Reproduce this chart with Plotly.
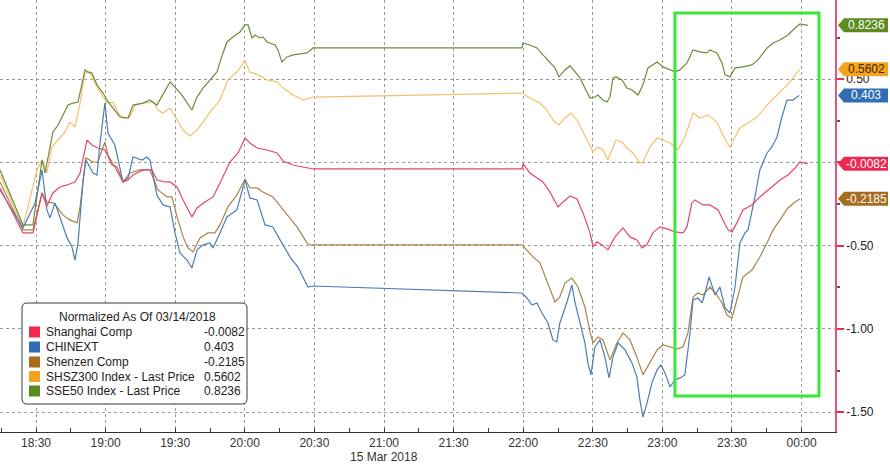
import plotly.graph_objects as go
from datetime import datetime, timedelta

# ---------------- data (time = minutes after 18:00 on 15 Mar 2018) ----------------
series_names = ["Shanghai Comp", "CHINEXT", "Shenzen Comp",
                "SHSZ300 Index - Last Price", "SSE50 Index - Last Price"]
last_values = [-0.0082, 0.403, -0.2185, 0.5602, 0.8236]
last_labels = ["-0.0082", "0.403", "-0.2185", "0.5602", "0.8236"]
legend_title = "Normalized As Of 03/14/2018"
date_label = "15 Mar 2018"

t_shanghai = [14.5,24.4,28.7,32.6,34.7,37.3,40.3,43.4,46.8,49.0,52.0,54.1,56.7,59.7,62.8,64.9,67.5,69.7,71.8,76.1,80.0,82.1,85.6,87.8,90.8,93.4,97.2,99.4,102.8,106.3,109.3,113.6,117.1,120.1,122.2,125.3,129.6,133.9,136.5,140.8,145.1,149.4,239.5,239.9,242.9,245.9,248.5,251.5,255.0,257.2,260.2,263.2,265.8,268.8,270.1,271.8,274.0,276.5,279.6,283.0,286.0,289.0,291.2,293.3,295.9,298.9,302.0,305.4,308.9,310.6,312.7,314.0,317.5,320.5,324.0,326.1,328.3,330.0,332.1,334.7,338.6,342.0,346.4,350.7,354.1,357.2,359.3,362.7]
v_shanghai = [-0.153,-0.423,-0.423,-0.183,-0.261,-0.183,-0.147,-0.135,-0.117,-0.063,0.135,0.105,0.087,0.075,-0.015,-0.027,-0.117,-0.105,-0.075,-0.045,-0.045,-0.105,-0.117,-0.117,-0.147,-0.225,-0.327,-0.273,-0.237,-0.207,-0.123,0.003,0.057,0.147,0.117,0.087,0.075,0.057,0.009,-0.015,-0.027,-0.039,-0.039,-0.009,-0.063,-0.093,-0.117,-0.177,-0.267,-0.237,-0.201,-0.219,-0.303,-0.423,-0.507,-0.477,-0.495,-0.525,-0.447,-0.393,-0.447,-0.465,-0.513,-0.495,-0.423,-0.387,-0.399,-0.417,-0.423,-0.387,-0.243,-0.225,-0.255,-0.255,-0.285,-0.345,-0.405,-0.417,-0.363,-0.285,-0.255,-0.207,-0.153,-0.105,-0.075,-0.033,0.003,-0.0082]

t_chinext = [14.5,24.4,29.6,32.6,34.7,36.0,38.2,40.3,43.4,45.5,46.8,48.1,50.3,51.5,54.6,56.3,57.6,59.7,61.0,64.0,67.5,69.7,71.8,75.7,77.8,79.1,82.1,84.7,87.8,89.9,92.1,95.1,97.2,99.4,102.0,105.0,106.3,109.3,112.3,116.6,120.1,122.2,125.3,128.7,132.1,135.2,139.5,142.9,147.2,149.4,239.5,241.6,243.8,245.9,248.1,250.7,252.8,254.5,255.8,258.9,261.0,262.3,264.5,266.6,267.9,269.2,270.9,273.1,275.2,277.0,278.7,280.9,283.9,286.9,289.0,290.3,291.6,293.4,295.5,297.7,299.4,301.1,303.3,305.4,307.6,309.7,311.9,313.2,315.3,317.1,318.4,320.1,322.7,324.8,327.0,329.1,331.3,333.4,335.6,336.9,339.9,342.0,345.1,347.2,349.4,351.5,353.7,356.3,358.9]
v_chinext = [-0.165,-0.393,-0.243,-0.045,-0.285,-0.333,-0.243,-0.327,-0.453,-0.507,-0.586,-0.483,-0.105,0.015,-0.063,-0.075,0.117,0.357,0.177,0.105,-0.117,-0.093,0.033,0.015,0.033,0.015,-0.195,-0.255,-0.267,-0.423,-0.544,-0.586,-0.634,-0.525,-0.495,-0.483,-0.513,-0.423,-0.327,-0.285,-0.105,-0.213,-0.225,-0.375,-0.387,-0.465,-0.568,-0.628,-0.748,-0.742,-0.784,-0.814,-0.856,-0.844,-0.904,-0.964,-1.066,-1.078,-0.964,-0.838,-0.736,-0.838,-0.964,-1.084,-1.204,-1.276,-1.108,-1.066,-1.168,-1.294,-1.168,-1.084,-1.126,-1.204,-1.288,-1.426,-1.529,-1.444,-1.324,-1.246,-1.216,-1.264,-1.348,-1.306,-1.294,-1.276,-1.024,-0.826,-0.814,-0.844,-0.784,-0.688,-0.796,-0.748,-0.874,-0.904,-0.748,-0.483,-0.423,-0.405,-0.207,-0.045,0.057,0.093,0.153,0.273,0.375,0.375,0.403]

t_shenzen = [14.5,24.4,28.7,32.6,34.7,37.3,39.0,41.6,44.6,47.7,49.0,51.5,54.6,56.7,59.7,61.0,64.0,67.5,70.5,74.8,79.1,82.6,86.5,88.6,90.8,93.4,95.5,97.7,100.7,104.1,107.1,109.3,112.7,116.6,120.1,122.2,125.3,127.8,132.1,136.5,142.5,146.8,148.1,239.5,241.6,244.2,247.2,250.2,253.7,255.8,258.0,261.0,263.6,266.6,268.8,270.1,272.2,274.4,277.4,280.4,283.0,286.0,289.0,291.6,294.6,297.7,300.3,303.3,306.3,308.9,311.0,313.2,315.3,317.5,320.5,323.5,325.7,327.8,330.0,332.1,334.7,338.6,342.0,345.1,347.7,350.7,354.1,357.2,359.3]
v_shenzen = [-0.117,-0.405,-0.405,-0.183,-0.237,-0.243,-0.267,-0.315,-0.345,-0.363,-0.267,0.027,0.003,0.003,0.123,0.045,-0.027,-0.117,-0.063,-0.045,-0.045,-0.165,-0.207,-0.207,-0.327,-0.447,-0.513,-0.537,-0.453,-0.423,-0.423,-0.375,-0.267,-0.195,-0.099,-0.153,-0.153,-0.177,-0.207,-0.285,-0.387,-0.483,-0.495,-0.495,-0.525,-0.567,-0.603,-0.706,-0.838,-0.808,-0.724,-0.694,-0.748,-0.868,-1.018,-1.084,-1.048,-1.066,-1.186,-1.084,-1.024,-1.066,-1.168,-1.276,-1.204,-1.126,-1.096,-1.108,-1.120,-1.108,-1.024,-0.808,-0.784,-0.796,-0.748,-0.796,-0.844,-0.916,-0.934,-0.826,-0.688,-0.646,-0.568,-0.483,-0.405,-0.345,-0.273,-0.237,-0.2185]

t_shsz300 = [14.5,24.4,30.4,32.6,34.7,36.9,39.5,42.5,44.6,46.8,49.0,51.1,53.3,56.3,58.9,61.0,63.2,65.3,67.5,70.5,72.7,76.1,80.4,82.6,84.7,87.8,90.8,93.4,96.4,99.4,102.0,105.0,109.3,112.7,116.6,120.1,122.2,125.7,129.6,133.9,136.5,140.8,145.1,149.4,239.5,242.9,247.2,250.2,252.8,255.4,258.0,260.6,263.2,265.3,267.9,270.1,272.2,274.4,276.5,278.3,280.0,282.6,284.7,287.3,290.3,291.6,294.6,297.7,300.3,303.3,306.7,309.7,313.2,316.2,319.6,323.5,325.7,327.8,329.1,331.3,333.4,336.9,340.8,345.1,349.4,353.7,356.3,359.3]
v_shsz300 = [-0.075,-0.387,-0.045,0.015,-0.063,0.093,0.135,0.183,0.243,0.213,0.357,0.538,0.538,0.453,0.393,0.357,0.363,0.297,0.267,0.273,0.345,0.357,0.363,0.315,0.297,0.327,0.255,0.195,0.159,0.195,0.243,0.303,0.375,0.496,0.544,0.610,0.544,0.526,0.496,0.484,0.447,0.405,0.375,0.393,0.417,0.387,0.357,0.315,0.255,0.225,0.267,0.297,0.255,0.195,0.117,0.063,0.093,0.075,0.015,0.075,0.135,0.123,0.087,0.057,-0.003,0.003,0.093,0.147,0.135,0.117,0.075,0.153,0.297,0.267,0.285,0.243,0.177,0.117,0.093,0.153,0.207,0.237,0.273,0.345,0.405,0.465,0.508,0.5602]

t_sse50 = [14.5,24.4,28.7,32.6,33.9,36.0,37.3,39.5,43.8,45.9,48.1,51.1,52.4,54.1,56.3,58.9,60.6,63.2,66.2,69.7,71.8,76.1,79.1,82.1,84.7,87.8,89.9,92.9,97.2,99.4,102.0,105.0,108.0,110.6,112.3,114.9,117.9,120.1,121.4,123.1,124.4,126.5,127.8,129.6,133.0,134.3,136.0,138.2,140.8,146.8,149.4,239.5,239.9,242.9,245.9,248.5,251.5,253.7,255.4,258.0,260.2,262.3,264.5,266.6,268.8,270.9,272.2,274.4,276.1,277.4,278.7,280.0,282.6,284.7,286.9,289.5,291.6,293.8,297.7,300.3,303.3,305.4,307.6,310.6,313.2,316.2,319.2,320.5,323.5,325.7,327.0,329.1,331.3,334.7,338.6,341.2,345.1,347.7,350.7,354.1,357.2,359.3,362.7]
v_sse50 = [-0.045,-0.375,-0.375,0.015,-0.063,0.087,0.183,0.225,0.345,0.357,0.363,0.556,0.544,0.538,0.465,0.417,0.375,0.327,0.273,0.267,0.345,0.357,0.375,0.345,0.405,0.484,0.453,0.405,0.315,0.393,0.447,0.496,0.544,0.658,0.724,0.754,0.784,0.826,0.826,0.748,0.766,0.748,0.754,0.724,0.706,0.676,0.604,0.634,0.646,0.658,0.688,0.688,0.718,0.706,0.688,0.646,0.598,0.568,0.514,0.556,0.580,0.544,0.508,0.447,0.387,0.393,0.405,0.375,0.363,0.393,0.508,0.514,0.496,0.447,0.435,0.405,0.465,0.568,0.604,0.574,0.556,0.544,0.556,0.598,0.676,0.664,0.658,0.676,0.658,0.598,0.526,0.514,0.568,0.574,0.586,0.616,0.688,0.718,0.736,0.766,0.808,0.832,0.8236]

y_tick_vals = [0.5, 0.0, -0.5, -1.0, -1.5]
y_tick_text = ["0.50", "", "-0.50", "-1.00", "-1.50"]
highlight_window = (305.4, 367.5, -1.402, 0.898)   # minutes, minutes, value, value

# ---------------- styling ----------------
line_colors = ["#e2486a", "#4d7db3", "#a8854a", "#f4c06e", "#6e8c3c"]
tag_colors = ["#ee2a52", "#2f6db5", "#a66d1e", "#f6a21c", "#5a8c1f"]
tag_text_colors = ["white", "white", "white", "#3a2a00", "white"]
FONT = "Liberation Sans, Arial, sans-serif"

base = datetime(2018, 3, 15, 18, 0)
def to_dt(ms):
    return [base + timedelta(minutes=m) for m in ms]

times = [t_shanghai, t_chinext, t_shenzen, t_shsz300, t_sse50]
vals = [v_shanghai, v_chinext, v_shenzen, v_shsz300, v_sse50]
for tt, vv in zip(times, vals):
    assert len(tt) == len(vv), (len(tt), len(vv))

fig = go.Figure()
draw_order = [3, 4, 2, 1, 0]
for i in draw_order:
    fig.add_trace(go.Scatter(x=to_dt(times[i]), y=vals[i], mode="lines",
                             line=dict(color=line_colors[i], width=1.2),
                             name=series_names[i], showlegend=False,
                             hoverinfo="skip"))

x_min = base + timedelta(minutes=14.48)
x_max = base + timedelta(minutes=374.4)
y_min, y_max = -1.619, 0.976

W, H = 890, 466
ml, mr, mt, mb = 0, 55, 0, 34
pw, ph = W - ml - mr, H - mt - mb

def px(xp):  # pixel x -> paper
    return (xp - ml) / pw
def py(yp):  # pixel y -> paper
    return (H - mb - yp) / ph

shapes = []
annotations = []

# highlight rectangle
hx0, hx1, hy0, hy1 = highlight_window
shapes.append(dict(type="rect", xref="x", yref="y",
                   x0=base + timedelta(minutes=hx0), x1=base + timedelta(minutes=hx1),
                   y0=hy0, y1=hy1, line=dict(color="#3be63b", width=3),
                   fillcolor="rgba(0,0,0,0)", layer="above"))

# legend box (rounded)
bx0, bx1, by_top, by_bot = px(22), px(247), py(303), py(404)
rx, ry = 5 / pw, 5 / ph
path = (f"M {bx0+rx},{by_top} L {bx1-rx},{by_top} Q {bx1},{by_top} {bx1},{by_top-ry} "
        f"L {bx1},{by_bot+ry} Q {bx1},{by_bot} {bx1-rx},{by_bot} "
        f"L {bx0+rx},{by_bot} Q {bx0},{by_bot} {bx0},{by_bot+ry} "
        f"L {bx0},{by_top-ry} Q {bx0},{by_top} {bx0+rx},{by_top} Z")
shapes.append(dict(type="path", xref="paper", yref="paper", path=path,
                   line=dict(color="#3a3a3a", width=1), fillcolor="white", layer="above"))
annotations.append(dict(xref="paper", yref="paper", x=px(137), y=py(317),
                        text=legend_title, showarrow=False, xanchor="center",
                        yanchor="middle", font=dict(family=FONT, size=12, color="#222")))
row_y = [332, 347, 362, 376.5, 391]
for i, name in enumerate(series_names):
    yc = row_y[i]
    shapes.append(dict(type="rect", xref="paper", yref="paper",
                       x0=px(29), x1=px(40), y0=py(yc + 5.5), y1=py(yc - 5.5),
                       line=dict(width=0), fillcolor=tag_colors[i], layer="above"))
    annotations.append(dict(xref="paper", yref="paper", x=px(44), y=py(yc), text=name,
                            showarrow=False, xanchor="left", yanchor="middle",
                            font=dict(family=FONT, size=12, color="#222")))
    annotations.append(dict(xref="paper", yref="paper", x=px(202), y=py(yc),
                            text=last_labels[i], showarrow=False, xanchor="left",
                            yanchor="middle", font=dict(family=FONT, size=12, color="#222")))

# right-hand value tags
half_h = 7 / ph * (y_max - y_min)
tip, body, end = px(838), px(844), px(888)
for i, v in enumerate(last_values):
    p = (f"M {tip},{v} L {body},{v+half_h} L {end},{v+half_h} "
         f"L {end},{v-half_h} L {body},{v-half_h} Z")
    shapes.append(dict(type="path", xref="paper", yref="y", path=p,
                       line=dict(width=0), fillcolor=tag_colors[i], layer="above"))
    annotations.append(dict(xref="paper", yref="y", x=px(866), y=v, text=last_labels[i],
                            showarrow=False, xanchor="center", yanchor="middle",
                            font=dict(family=FONT, size=12, color=tag_text_colors[i])))

# date label under x axis
annotations.append(dict(xref="x", yref="paper", x=base + timedelta(minutes=180),
                        y=py(457), text=date_label, showarrow=False,
                        xanchor="center", yanchor="middle",
                        font=dict(family=FONT, size=12, color="#333")))

fig.update_layout(
    width=W, height=H, margin=dict(l=ml, r=mr, t=mt, b=mb),
    paper_bgcolor="white", plot_bgcolor="white",
    font=dict(family=FONT, size=12, color="#222"),
    showlegend=False, shapes=shapes, annotations=annotations,
    xaxis=dict(type="date", range=[x_min, x_max],
               tick0=base + timedelta(minutes=30), dtick=30 * 60 * 1000,
               tickformat="%H:%M", ticks="inside", ticklen=4, tickcolor="#333",
               tickfont=dict(family=FONT, size=12, color="#333"),
               showgrid=True, gridcolor="#9a9a9a", griddash="dot", gridwidth=1,
               minor=dict(dtick=15 * 60 * 1000, ticks="inside", ticklen=4,
                          tickcolor="#333", showgrid=False),
               showline=True, linecolor="#333", linewidth=1, zeroline=False),
    yaxis=dict(side="right", range=[y_min, y_max], tickvals=y_tick_vals,
               ticktext=y_tick_text, ticks="outside", ticklen=7, tickwidth=2,
               tickcolor="#e0304f", tickfont=dict(family=FONT, size=12, color="#222"),
               showgrid=True, gridcolor="#9a9a9a", griddash="dot", gridwidth=1,
               minor=dict(dtick=0.25, ticks="outside", ticklen=3, tickcolor="#555",
                          showgrid=False),
               showline=True, linecolor="#e0577a", linewidth=1.5, zeroline=False),
)

# remove the default 8px page margin so the 890x466 figure fills the window exactly
fig.write_html("out.html",
               config={"displayModeBar": False},
               post_script="document.body.style.margin='0';"
                           "document.body.style.overflow='hidden';")
